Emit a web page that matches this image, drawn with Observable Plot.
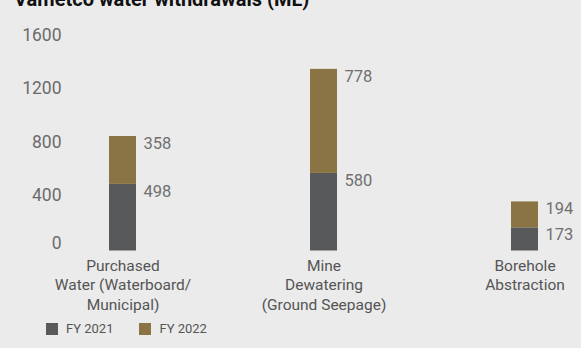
<!DOCTYPE html>
<html><head><meta charset="utf-8">
<script src="https://cdn.jsdelivr.net/npm/d3@7"></script>
<script src="https://cdn.jsdelivr.net/npm/@observablehq/plot@0.6"></script>
<style>
html,body{margin:0;padding:0;background:#ebebeb;}
body{width:581px;height:348px;overflow:hidden;font-family:Roboto,sans-serif;}
#title{font-family:Roboto,sans-serif;font-weight:bold;font-size:20px;line-height:18px;height:18px;margin-top:-10px;padding-left:14px;color:#111;white-space:nowrap;}
#chart svg{display:block;}
.lg-swatch{margin-right:26px !important;}
.lg-swatch > svg{margin-right:8px !important;}
#legend{padding-left:46px;margin-top:-14px;}
</style></head><body>
<div id="title"></div>
<div id="chart"></div>
<div id="legend"></div>
<script>
const title = "Vametco water withdrawals (ML)";
const categories = ["Purchased\nWater (Waterboard/\nMunicipal)", "Mine\nDewatering\n(Ground Seepage)", "Borehole\nAbstraction"];
const series = ["FY 2021", "FY 2022"];
const fy2021 = [498, 580, 173];
const fy2022 = [358, 778, 194];
const yTicks = [0, 400, 800, 1200, 1600];
const colors = ["#58595b", "#8b7444"];

document.getElementById("title").textContent = title;

const seriesValues = [fy2021, fy2022];
const rows = [];
series.forEach((s, i) => {
  categories.forEach((c, j) => rows.push({category: c, series: s, value: seriesValues[i][j]}));
});

const chart = Plot.plot({
  width: 581, height: 318,
  marginLeft: 68, marginRight: 3, marginTop: 28.5, marginBottom: 75.5,
  style: {background: "transparent", fontFamily: "Roboto, sans-serif"},
  x: {domain: categories, paddingInner: 0.866, paddingOuter: 0.2, label: null},
  y: {domain: [0, 1600], label: null},
  color: {domain: series, range: colors},
  marks: [
    Plot.barY(rows, {x: "category", y: "value", fill: "series"}),
    Plot.text(rows, Plot.stackY2({x: "category", y: "value", z: "series", text: d => String(d.value),
      dx: 20.5, dy: 7, textAnchor: "start", fontSize: 16.5, fill: "#707070"})),
    Plot.axisY(yTicks.filter(d => d > 0), {tickSize: 0, tickPadding: 7, fontSize: 17.5, color: "#6b6b6b", dy: -2, label: null, tickFormat: d => String(d)}),
    Plot.axisY(yTicks.filter(d => d === 0), {tickSize: 0, tickPadding: 7, fontSize: 17.5, color: "#6b6b6b", dy: -7.5, label: null, tickFormat: d => String(d)}),
    Plot.axisX({tickSize: 0, tickPadding: 6, fontSize: 15.5, color: "#555", lineHeight: 1.25, label: null})
  ]
});
document.getElementById("chart").appendChild(chart);

const legend = Plot.legend({
  color: {domain: series, range: colors},
  className: "lg",
  swatchSize: 12,
  style: {fontSize: "13px", fontFamily: "Roboto, sans-serif", color: "#555"}
});
document.getElementById("legend").appendChild(legend);
</script>
</body></html>
